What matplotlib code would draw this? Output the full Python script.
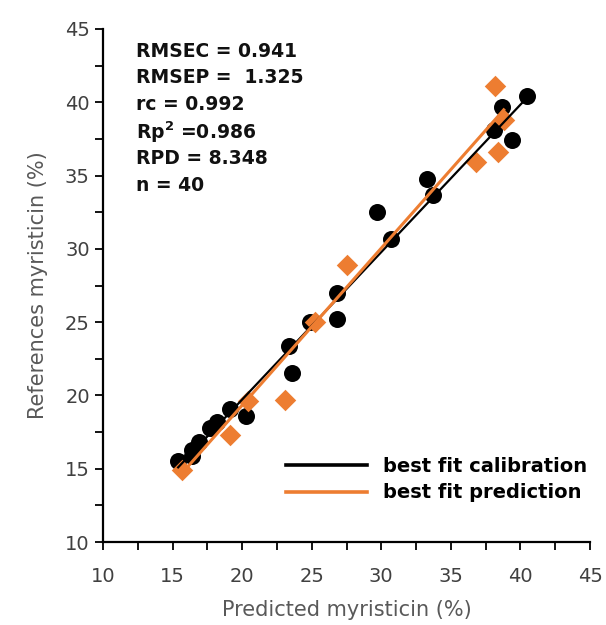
import matplotlib
matplotlib.use('Agg')
from matplotlib import pyplot as plt
from matplotlib.ticker import MultipleLocator
import numpy as np

# calibration set (black circles)
cal_pred = [15.4, 16.4, 16.4, 16.9, 17.7, 18.2, 19.1, 20.3, 23.4, 23.6, 24.9,
            26.8, 26.8, 29.7, 30.7, 33.3, 33.7, 38.1, 38.65, 39.4, 40.45]
cal_ref = [15.5, 15.9, 16.3, 16.8, 17.8, 18.2, 19.1, 18.6, 23.4, 21.5, 25.0,
           27.0, 25.2, 32.5, 30.7, 34.8, 33.7, 38.1, 39.7, 37.4, 40.4]

# prediction set (orange diamonds)
val_pred = [15.7, 19.1, 20.45, 23.1, 25.2, 27.5, 36.8, 38.4, 38.2, 38.8]
val_ref = [14.9, 17.3, 19.6, 19.7, 25.0, 28.9, 35.9, 36.6, 41.1, 38.8]

# fitted lines
cal_slope, cal_icpt = 1.006, -0.40
val_slope, val_icpt = 1.072, -2.11

stats = ["RMSEC = 0.941", "RMSEP =  1.325", "rc = 0.992",
         "Rp$^\\mathbf{2}$ =0.986", "RPD = 8.348", "n = 40"]

orange = '#ED7D31'
grey = '#595959'
fam = 'DejaVu Sans'

fig = plt.figure(figsize=(6.06, 6.25), dpi=100)
ax = fig.add_axes([0.170, 0.1328, 0.8036, 0.8208])

ax.scatter(cal_pred, cal_ref, s=150, c='black', marker='o', linewidths=0, zorder=2)
ax.scatter(val_pred, val_ref, s=120, c=orange, marker='D', linewidths=0, zorder=3)

xc = np.array([min(cal_pred), max(cal_pred)])
ax.plot(xc, cal_slope * xc + cal_icpt, color='black', lw=1.6, zorder=4,
        label='best fit calibration')
xv = np.array([min(val_pred), max(val_pred)])
ax.plot(xv, val_slope * xv + val_icpt, color=orange, lw=2.2, zorder=5,
        label='best fit prediction')

ax.set_xlim(10, 45)
ax.set_ylim(10, 45)
ax.xaxis.set_major_locator(MultipleLocator(5))
ax.yaxis.set_major_locator(MultipleLocator(5))
ax.xaxis.set_minor_locator(MultipleLocator(2.5))
ax.yaxis.set_minor_locator(MultipleLocator(2.5))
ax.tick_params(which='both', direction='out', length=6, width=1.3, colors='black',
               labelcolor='#404040', labelsize=14)
ax.tick_params(axis='x', pad=12)
for lab in ax.get_xticklabels() + ax.get_yticklabels():
    lab.set_fontfamily(fam)

for s in ['top', 'right']:
    ax.spines[s].set_visible(False)
for s in ['left', 'bottom']:
    ax.spines[s].set_linewidth(1.6)

ax.set_xlabel('Predicted myristicin (%)', fontsize=15, color=grey,
              family=fam, labelpad=10)
ax.set_ylabel('References myristicin (%)', fontsize=15, color=grey,
              family=fam, labelpad=12)

plt.rcParams['mathtext.fontset'] = 'dejavusans'
for i, t in enumerate(stats):
    ax.text(0.068, 0.957 - i * 0.0525, t, transform=ax.transAxes, fontsize=13.5,
            fontweight='bold', family=fam, color='#111111', va='center')

leg = ax.legend(loc='lower right', bbox_to_anchor=(1.03, 0.043), frameon=False,
                prop={'family': fam, 'weight': 'bold', 'size': 14},
                handlelength=4.2, labelspacing=0.4, handletextpad=0.8)
for h in leg.get_lines():
    h.set_linewidth(2.6)

fig.savefig('out.png', dpi=100)
